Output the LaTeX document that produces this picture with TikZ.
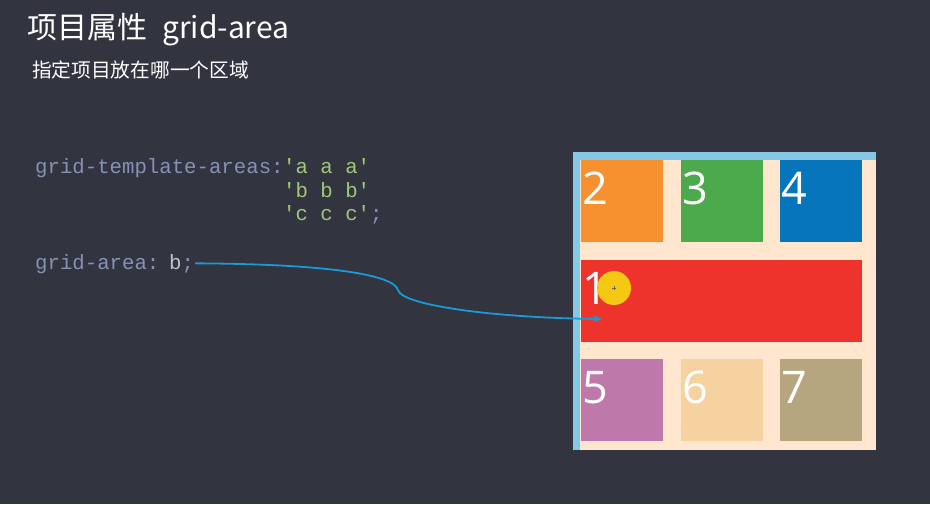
\documentclass[tikz,border=0pt]{standalone}
\usepackage{fontspec}
\setmainfont{Open Sans}
\setmonofont{Liberation Mono}
\newfontfamily\cjk{Noto Sans CJK SC}
\usetikzlibrary{arrows.meta,positioning}

\definecolor{slide}{RGB}{50,52,64}
\definecolor{codegrey}{RGB}{135,145,180}
\definecolor{codegreen}{RGB}{160,200,120}
\definecolor{codelight}{RGB}{190,195,210}
\definecolor{gridbg}{RGB}{255,231,207}
\definecolor{gridline}{RGB}{132,200,230}
\definecolor{arrowblue}{RGB}{26,154,214}
\definecolor{itemorange}{RGB}{247,145,48}
\definecolor{itemgreen}{RGB}{76,170,76}
\definecolor{itemblue}{RGB}{6,117,188}
\definecolor{itemred}{RGB}{238,51,45}
\definecolor{itempurple}{RGB}{190,120,170}
\definecolor{itemtan}{RGB}{245,210,160}
\definecolor{itemkhaki}{RGB}{182,166,128}
\definecolor{cursor}{RGB}{245,200,20}

\begin{document}
\begin{tikzpicture}[x=1pt, y=-1pt, >=Stealth,
    cell/.style={draw=none, inner sep=0, anchor=north west, minimum height=82pt},
    num/.style={text=white, inner sep=0, anchor=north west, font=\fontsize{45}{45}\selectfont},
    code/.style={inner sep=0, anchor=base west, font=\ttfamily\fontsize{20.7}{20.7}\selectfont},
    arrowline/.style={draw=arrowblue, line width=1.8pt}]

    % --- nền slide ---
    \fill[slide] (0,0) rectangle (930,504);

    % --- tiêu đề ---
    \node[inner sep=0, anchor=base west, text=white] (title) at (27,38)
        {\cjk\fontsize{30}{30}\selectfont 项目属性\hspace{15pt}grid-area};
    \node[inner sep=0, anchor=base west, text=white] (subtitle) at (32,77)
        {\cjk\fontsize{19.7}{19.7}\selectfont 指定项目放在哪一个区域};

    % --- đoạn code ---
    \node[code, text=codegrey] (tpl) at (35,173) {grid-template-areas:};
    \node[code, text=codegreen] (rowa) at (283,173) {'a a a'};
    \node[code, text=codegreen] (rowb) at (283,197) {'b b b'};
    \node[code, text=codegreen] (rowc) at (283,220) {'c c c'\textcolor{codegrey}{;}};
    \node[code, text=codegrey] (area) at (35,269) {grid-area:};
    \node[code, text=codelight, inner xsep=1pt] (areab) at (168,269) {b\textcolor{codegrey}{;}};

    % --- khung lưới ---
    \fill[gridbg] (580,160) rectangle (876,450);
    \fill[gridline] (573,152) rectangle (876,160);
    \fill[gridline] (573,152) rectangle (580,450);

    % hàng 1
    \node[cell, fill=itemorange, minimum width=82pt] (c2) at (581,160) {};
    \node[cell, fill=itemgreen, minimum width=82pt] (c3) at (681,160) {};
    \node[cell, fill=itemblue, minimum width=82pt] (c4) at (780,160) {};
    % hàng 2
    \node[cell, fill=itemred, minimum width=281pt] (c1) at (581,260) {};
    % hàng 3
    \node[cell, fill=itempurple, minimum width=82pt] (c5) at (581,359) {};
    \node[cell, fill=itemtan, minimum width=82pt] (c6) at (681,359) {};
    \node[cell, fill=itemkhaki, minimum width=82pt] (c7) at (780,359) {};

    % số thứ tự
    \foreach \k in {1,...,7}{
        \node[num] (n\k) at ([shift={(1,12)}]c\k.north west) {\k};
    }

    % con trỏ chuột
    \fill[cursor] (614,288) circle (17);
    \draw[black!60, line width=0.3pt] (612,288) -- (616,288) (614,286) -- (614,290);

    % --- mũi tên ---
    \coordinate (tip) at (602,319);
    \draw[arrowline, -{Stealth[length=9pt, width=7pt]}] (areab.east)
        .. controls (330,264) and (394,275) .. (398,290)
        .. controls (402,306) and (500,318) .. (tip);
\end{tikzpicture}
\end{document}
